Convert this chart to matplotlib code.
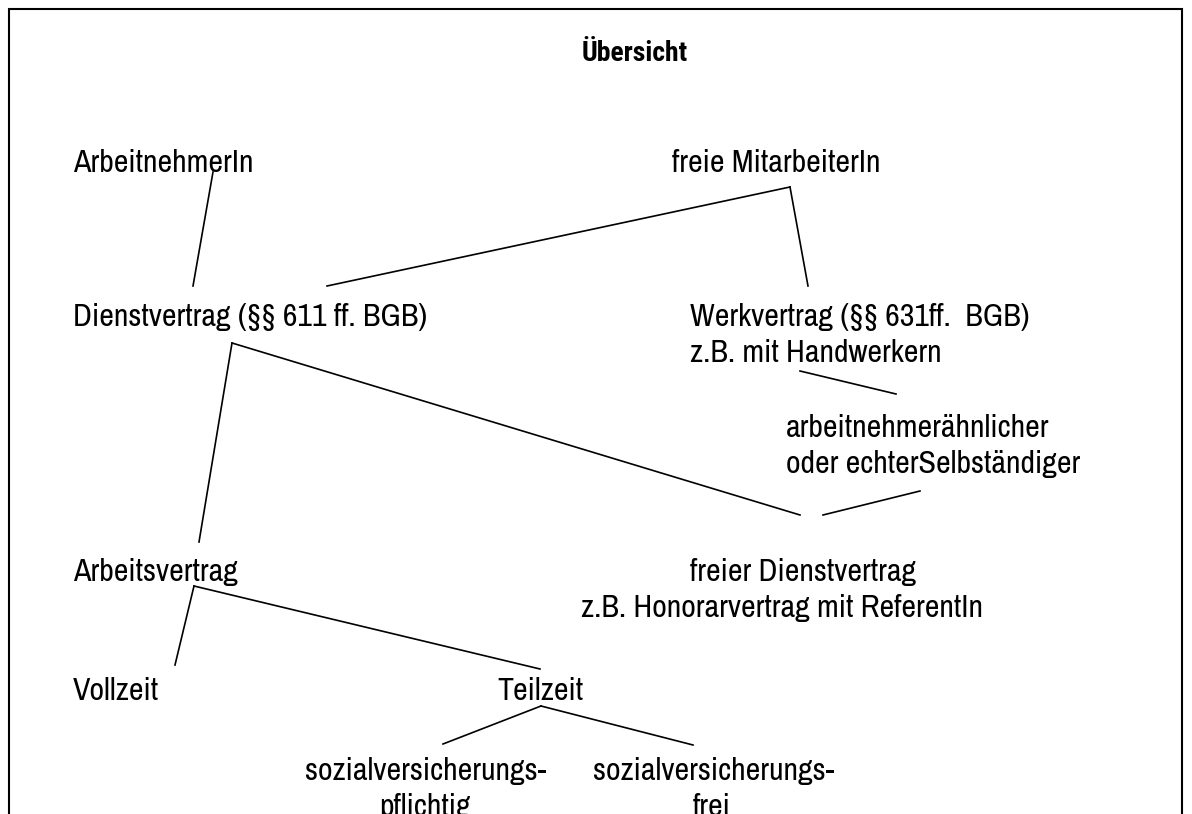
import matplotlib.pyplot as plt
from matplotlib import font_manager

# the original uses a narrow Arial-like face; Archivo Narrow is the closest here
names = {f.name for f in font_manager.fontManager.ttflist}
font = 'Archivo Narrow' if 'Archivo Narrow' in names else 'Liberation Sans'
# Archivo Narrow has no bold cut installed, so the title gets its own face
title_font = 'Roboto Condensed' if 'Roboto Condensed' in names else font
plt.rcParams['font.family'] = [font, 'DejaVu Sans']

W, H = 1192, 814

title = "Übersicht"

# diagram labels, with left x and baseline y in pixel space
labels = [
    "ArbeitnehmerIn",
    "freie MitarbeiterIn",
    "Dienstvertrag (§§ 611 ff. BGB)",
    "Werkvertrag (§§ 631ff.  BGB)",
    "z.B. mit Handwerkern",
    "arbeitnehmerähnlicher",
    "oder echterSelbständiger",
    "Arbeitsvertrag",
    "freier Dienstvertrag",
    "z.B. Honorarvertrag mit ReferentIn",
    "Vollzeit",
    "Teilzeit",
    "sozialversicherungs-",
    "sozialversicherungs-",
]
label_x = [73, 672, 73, 690, 690, 786, 786, 73, 690, 581, 73, 497, 305, 593]
label_y = [172, 172, 326, 326, 362, 437, 473, 581, 581, 617, 700, 700, 780, 780]

# centred second lines under the two bottom boxes (cut by the page edge)
sub_labels = ["pflichtig", "frei"]
sub_x = [425, 712]
sub_y = [816, 816]

# connecting lines: (x0, y0, x1, y1)
edges = [
    (213, 172, 193, 286),
    (327, 286, 790, 187),
    (790, 187, 808, 286),
    (800, 371, 896, 394),
    (232, 343, 800, 515),
    (920, 491, 823, 515),
    (232, 343, 199, 542),
    (194, 586, 175, 665),
    (194, 586, 540, 669),
    (541, 706, 443, 744),
    (541, 706, 693, 745),
]

fig = plt.figure(figsize=(W / 100, H / 100), dpi=100)
ax = fig.add_axes([0, 0, 1, 1])
ax.set_xlim(0, W)
ax.set_ylim(H, 0)
ax.axis('off')

# frame, open at the bottom (page continues)
ax.plot([9, 9, 1182, 1182], [H + 5, 9, 9, H + 5], color='black', lw=1.5,
        solid_joinstyle='miter')

ax.text(635, 61, title, ha='center', va='baseline', fontsize=20,
        fontweight='bold', family=[title_font, 'DejaVu Sans'])

for t, x, y in zip(labels, label_x, label_y):
    ax.text(x, y, t, ha='left', va='baseline', fontsize=23)

for t, x, y in zip(sub_labels, sub_x, sub_y):
    ax.text(x, y, t, ha='center', va='baseline', fontsize=23)

for x0, y0, x1, y1 in edges:
    ax.plot([x0, x1], [y0, y1], color='black', lw=1.2)

fig.savefig('out.png', dpi=100)
